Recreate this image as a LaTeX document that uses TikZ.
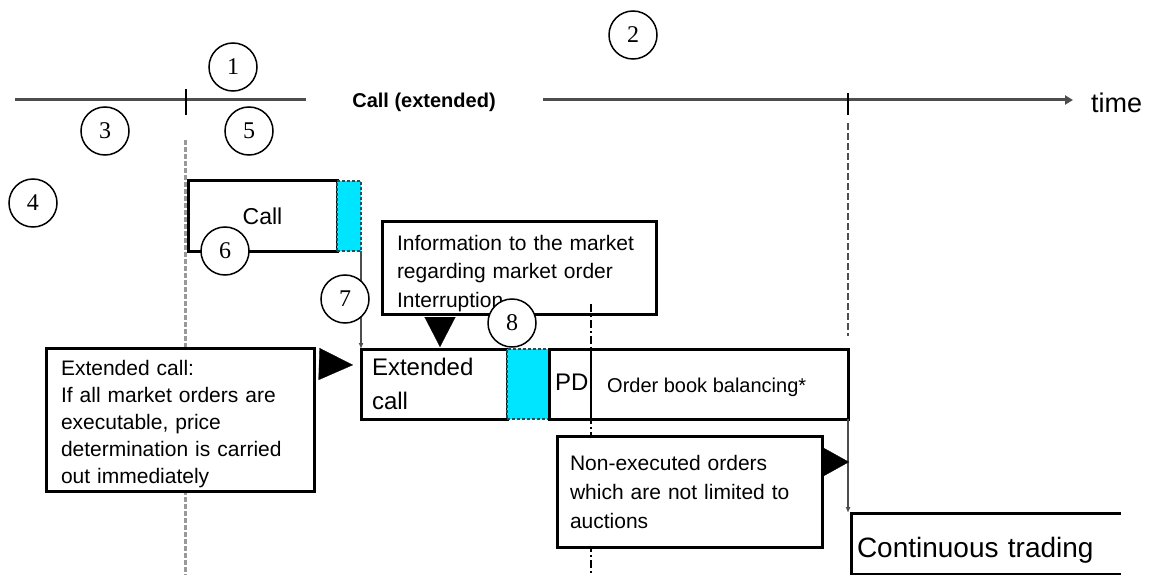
\documentclass[tikz,border=0pt]{standalone}
\usepackage{fontspec}
\setmainfont{Liberation Sans}
\newfontfamily\numfont{Liberation Serif}
\usetikzlibrary{arrows.meta,calc}
\definecolor{cyanfill}{HTML}{00E5FF}
\definecolor{axisgray}{HTML}{4D4D4D}
\definecolor{tealedge}{HTML}{1F4F57}
\begin{document}
\begin{tikzpicture}[x=1pt,y=-1pt,
  box/.style={draw=black, line width=3pt, fill=white, anchor=north west, inner sep=0pt, outer sep=0pt},
  txtbox/.style={box, align=left, font=\fontsize{21}{27}\selectfont},
  cyanbox/.style={draw=tealedge, dash pattern=on 3pt off 2pt, line width=2pt, fill=cyanfill, anchor=north west, inner sep=0pt, outer sep=0pt, minimum height=70pt},
  num/.style={circle, draw=black, line width=1.5pt, fill=white, minimum size=48pt, inner sep=0pt, font=\numfont\fontsize{24}{24}\selectfont},
  thinarrow/.style={draw=axisgray, line width=1.5pt, -{Latex[length=6pt,width=5pt]}},
  bigtip/.style={draw=black, fill=black, line width=0.2pt},
  gridgray/.style={draw=black!40, line width=3pt, dash pattern=on 5pt off 2pt},
  griddark/.style={draw=axisgray, line width=2pt, dash pattern=on 7pt off 3pt},
  gridblack/.style={draw=black, line width=2pt, dash pattern=on 8pt off 3pt on 2pt off 3pt}
]
\useasboundingbox (0,0) rectangle (1149,575);

% time axis
\coordinate (tl0) at (15,100);
\coordinate (tl1) at (306,100);
\coordinate (tr0) at (543,100);
\coordinate (tend) at (1073,100);
\draw[draw=axisgray, line width=3pt] (tl0) -- (tl1);
\draw[draw=axisgray, line width=3pt, -{Triangle[length=8pt,width=9pt]}] (tr0) -- (tend);
\node[font=\bfseries\fontsize{20}{20}\selectfont, inner sep=0pt] (callext) at (424,102) {Call (extended)};
\node[anchor=west, font=\fontsize{27}{27}\selectfont, inner sep=0pt] (time) at (1091,103) {time};

% ticks
\coordinate (k1a) at (186,89); \coordinate (k1b) at (186,115);
\coordinate (k2a) at (848,93); \coordinate (k2b) at (848,115);
\draw[line width=2.5pt] (k1a) -- (k1b);
\draw[line width=2.5pt] (k2a) -- (k2b);

% background dashed lines
\coordinate (g1a) at (185,140); \coordinate (g1b) at (185,575);
\draw[gridgray] (g1a) -- (g1b);
\coordinate (g2a) at (848,123); \coordinate (g2b) at (848,336);
\draw[griddark] (g2a) -- (g2b);

% call box
\node[box, minimum width=149pt, minimum height=70pt, font=\fontsize{23}{23}\selectfont] (call) at (188,181) {Call};
\node[cyanbox, minimum width=24pt] (cy1) at (337,181) {};

% info box
\node[txtbox, inner xsep=15pt, text width=244pt, minimum height=93pt, font=\fontsize{21}{28.5}\selectfont] (info) at (382,221)
  {\rule{0pt}{27pt}Information to the market\\regarding market order\\Interruption};

% extended call, cyan, PD
\node[box, inner xsep=11pt, text width=124pt, minimum height=70pt, align=left, font=\fontsize{24}{34}\selectfont] (ext) at (361,349) {Extended\\call};
\node[cyanbox, minimum width=42pt] (cy2) at (507,349) {};
\node[box, minimum width=299pt, minimum height=70pt] (pd) at (549,349) {};
\node[anchor=west, inner sep=0pt, font=\fontsize{24}{24}\selectfont] (pdtxt) at ($(pd.west)+(6,-2)$) {PD};
\node[anchor=west, inner sep=0pt, font=\fontsize{20}{20}\selectfont] (obb) at ($(pd.west)+(58,3)$) {Order book balancing*};

% dash-dot line through PD box
\coordinate (g3a) at (591,304); \coordinate (g3b) at (591,575);
\draw[gridblack] (g3a) -- (g3b);
\draw[line width=2pt] (pd.north west -| g3a) -- (pd.south west -| g3a);

% left explanation box
\node[txtbox, inner xsep=15pt, text width=238pt, minimum height=143pt] (lbox) at (46,348)
  {\rule{0pt}{25pt}Extended call:\\If all market orders are\\executable, price\\determination is carried\\out immediately};

% non-executed box
\node[txtbox, inner xsep=13pt, text width=239pt, minimum height=111pt, font=\fontsize{21}{29}\selectfont] (nex) at (557,436)
  {Non-executed orders\\which are not limited to\\auctions};

% continuous trading (open on the right)
\node[anchor=north west, inner xsep=6pt, inner ysep=0pt, text width=258pt, minimum height=61pt, outer sep=0pt, align=left, font=\fontsize{28}{28}\selectfont] (ct) at (851,513) {\rule{0pt}{34pt}Continuous trading};
\draw[line width=3pt] (ct.north east) -- (ct.north west) -- (ct.south west) -- (ct.south east);

% thin connectors
\draw[thinarrow] (cy1.south east) -- (ext.north west);
\draw[thinarrow] (pd.south east) -- (pd.south east |- ct.north);

% big triangle arrows
\draw[bigtip, -{Triangle[length=34pt,width=32pt]}] ($(lbox.north east)+(5,16)$) -- ($(ext.north west)+(-8,16)$);
\draw[bigtip, -{Triangle[length=30pt,width=31pt]}] ($(info.south west)+(58,3)$) -- ($(ext.north west)+(79,-2)$);
\draw[bigtip, -{Triangle[length=27pt,width=30pt]}] ($(nex.north east)+(0,26)$) -- ($(pd.south east)+(1,43)$);

% numbered circles
\node[num] (n1) at (233,67) {1};
\node[num] (n2) at (633,35) {2};
\node[num] (n3) at (105,131) {3};
\node[num] (n4) at (33,203) {4};
\node[num] (n5) at (249,131) {5};
\node[num] (n6) at (225,251) {6};
\node[num] (n7) at (345,299) {7};
\node[num] (n8) at (512,323) {8};
\end{tikzpicture}
\end{document}
